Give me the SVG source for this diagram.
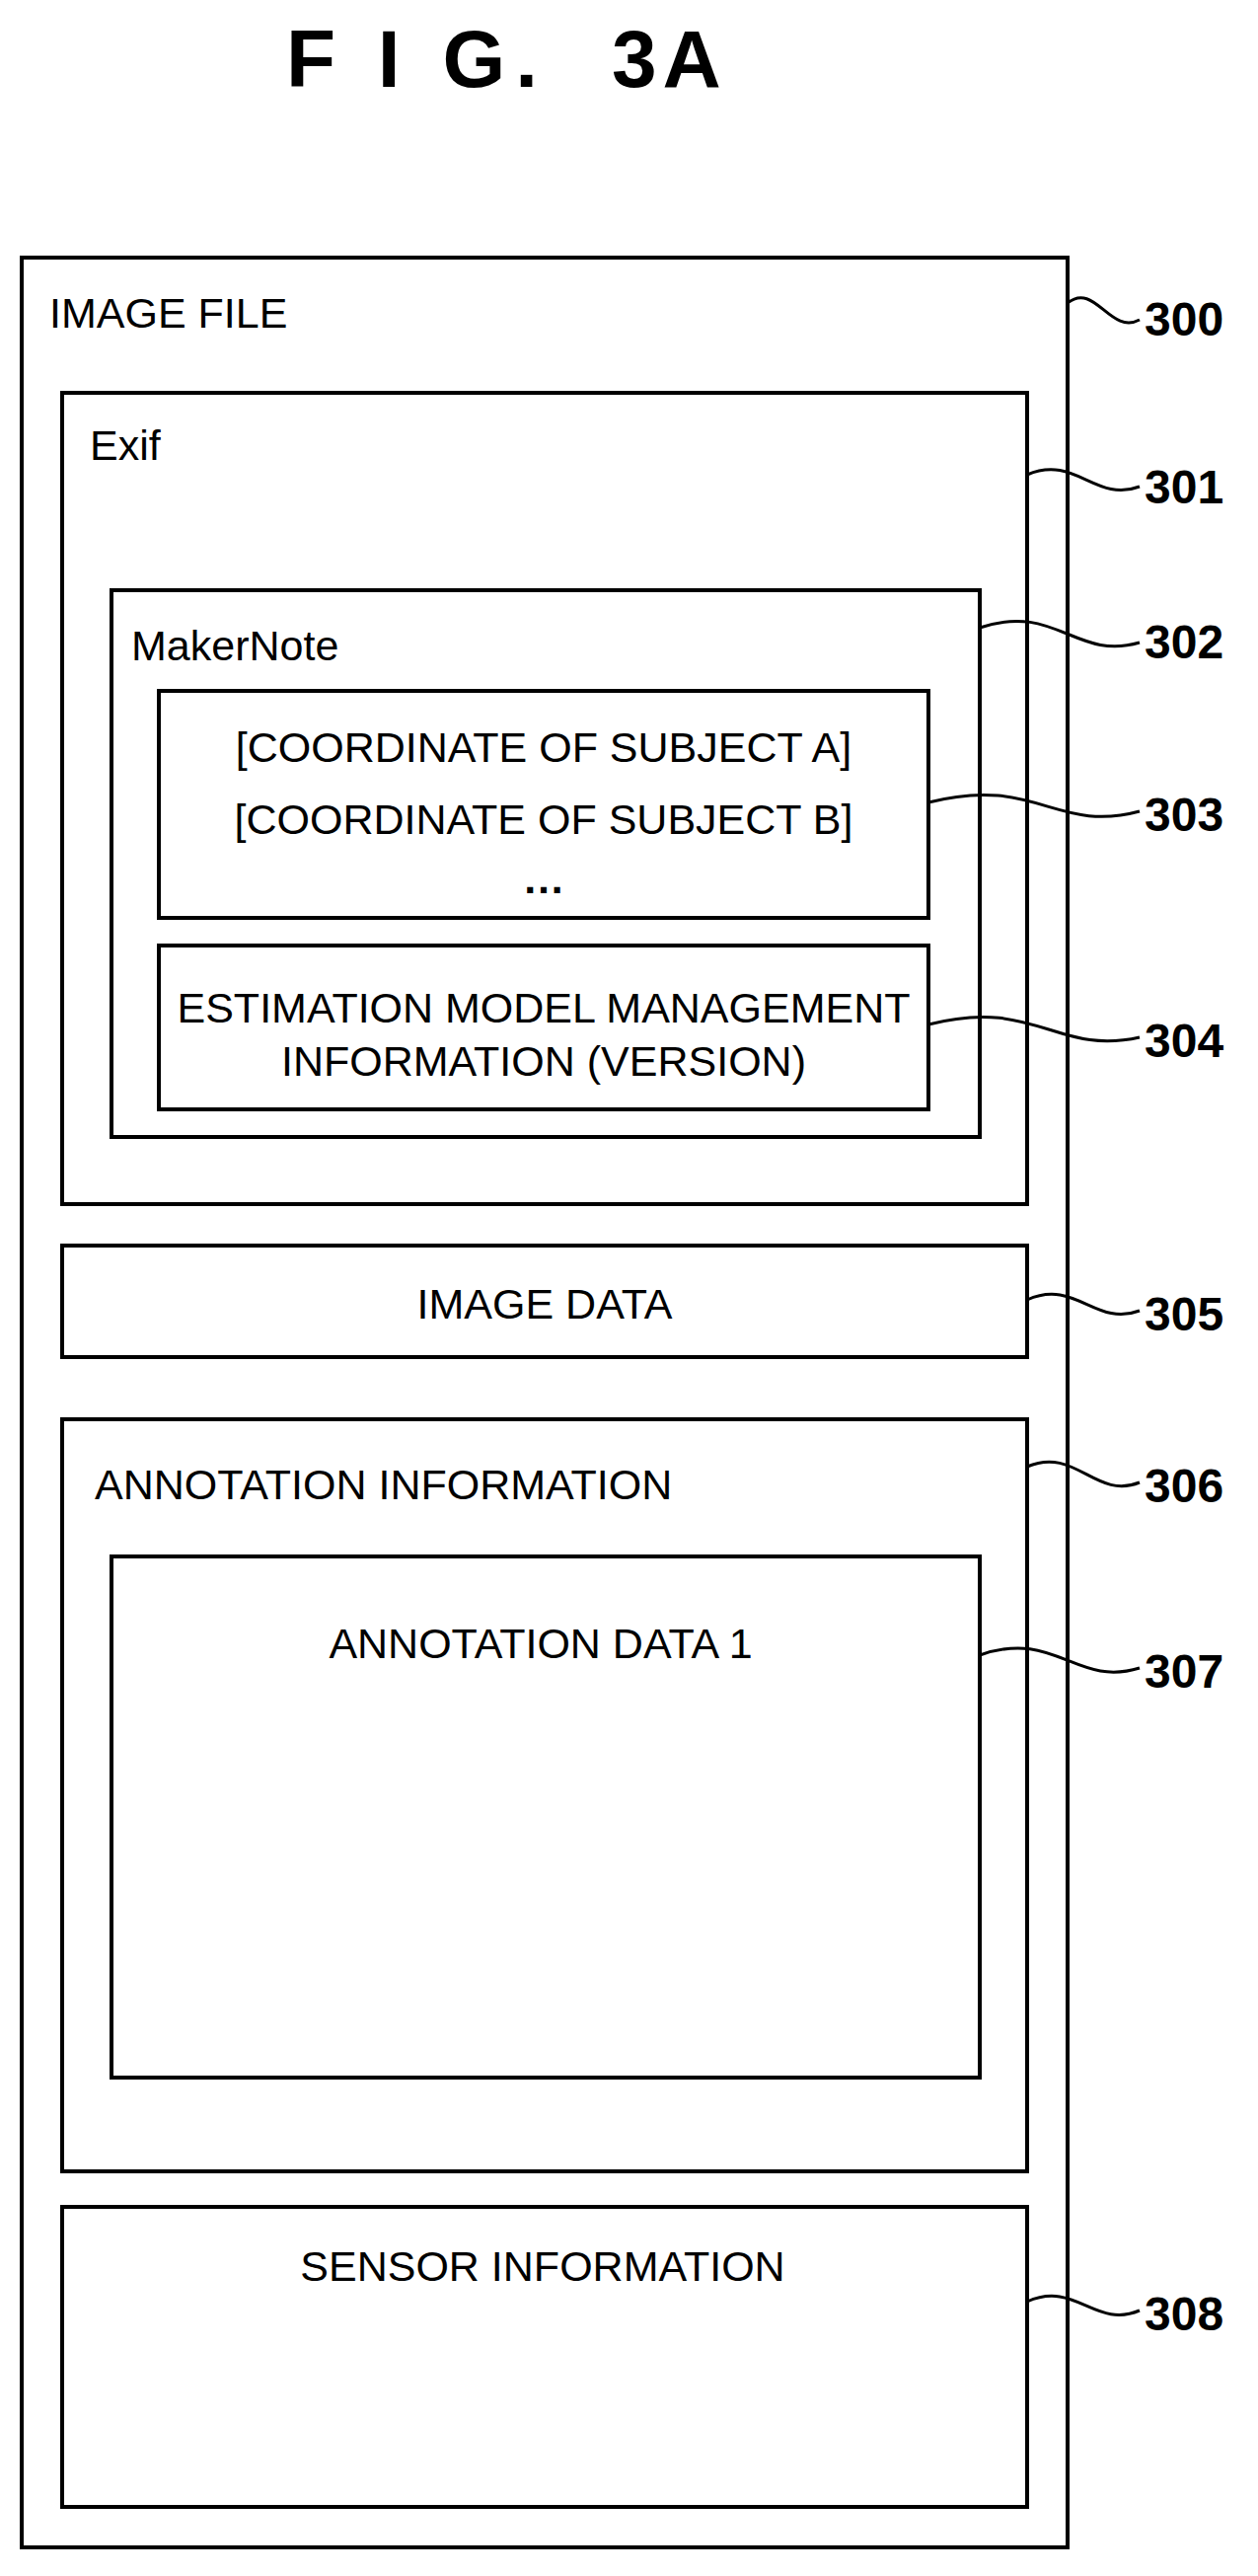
<svg xmlns="http://www.w3.org/2000/svg" width="1275" height="2610" viewBox="0 0 1275 2610">
<style>
.b{fill:none;stroke:#000;stroke-width:4}
.t{font-family:"Liberation Sans",Arial,sans-serif;font-size:43px;fill:#000}
.m{text-anchor:middle}
.n{font-family:"Liberation Sans",Arial,sans-serif;font-size:48px;font-weight:bold;fill:#000}
.l{fill:none;stroke:#000;stroke-width:3}
</style>
<rect width="1275" height="2610" fill="#fff"/>
<text x="290" y="88" class="n" style="font-size:82px;letter-spacing:10px">F I G.</text>
<text x="620" y="88" class="n" style="font-size:82px;letter-spacing:6px">3A</text>
<g id="n300"><rect class="b" x="22" y="261" width="1060" height="2320"/><text class="t" x="50" y="332">IMAGE FILE</text></g>
<g id="n301"><rect class="b" x="63" y="398" width="978" height="822"/><text class="t" x="91" y="466">Exif</text></g>
<g id="n302"><rect class="b" x="113" y="598" width="880" height="554"/><text class="t" x="133" y="669">MakerNote</text></g>
<g id="n303"><rect class="b" x="161" y="700" width="780" height="230"/><text class="t m" x="551" y="772">[COORDINATE OF SUBJECT A]</text><text class="t m" x="551" y="845">[COORDINATE OF SUBJECT B]</text><text class="t m" x="551" y="905" style="font-weight:bold">…</text></g>
<g id="n304"><rect class="b" x="161" y="958" width="780" height="166"/><text class="t m" x="551" y="1036">ESTIMATION MODEL MANAGEMENT</text><text class="t m" x="551" y="1090">INFORMATION (VERSION)</text></g>
<g id="n305"><rect class="b" x="63" y="1262" width="978" height="113"/><text class="t m" x="552" y="1336">IMAGE DATA</text></g>
<g id="n306"><rect class="b" x="63" y="1438" width="978" height="762"/><text class="t" x="96" y="1519">ANNOTATION INFORMATION</text></g>
<g id="n307"><rect class="b" x="113" y="1577" width="880" height="528"/><text class="t m" x="548" y="1680">ANNOTATION DATA 1</text></g>
<g id="n308"><rect class="b" x="63" y="2236" width="978" height="304"/><text class="t m" x="550" y="2311">SENSOR INFORMATION</text></g>
<g id="connectors">
<path class="l" d="M1082,307 C1110,285 1125,340 1155,324"/>
<path class="l" d="M1041,481 C1090,460 1110,510 1155,493"/>
<path class="l" d="M993,636 C1070,610 1090,670 1155,651"/>
<path class="l" d="M941,813 C1050,785 1070,845 1155,822"/>
<path class="l" d="M941,1038 C1050,1010 1070,1070 1155,1051"/>
<path class="l" d="M1041,1317 C1090,1295 1110,1345 1155,1328"/>
<path class="l" d="M1041,1486 C1090,1465 1110,1520 1155,1502"/>
<path class="l" d="M993,1677 C1070,1650 1090,1710 1155,1690"/>
<path class="l" d="M1041,2332 C1090,2310 1110,2360 1155,2341"/>
</g>
<g id="labels">
<text class="n" x="1160" y="340">300</text>
<text class="n" x="1160" y="510">301</text>
<text class="n" x="1160" y="667">302</text>
<text class="n" x="1160" y="842">303</text>
<text class="n" x="1160" y="1071">304</text>
<text class="n" x="1160" y="1348">305</text>
<text class="n" x="1160" y="1522">306</text>
<text class="n" x="1160" y="1710">307</text>
<text class="n" x="1160" y="2361">308</text>
</g>
</svg>
